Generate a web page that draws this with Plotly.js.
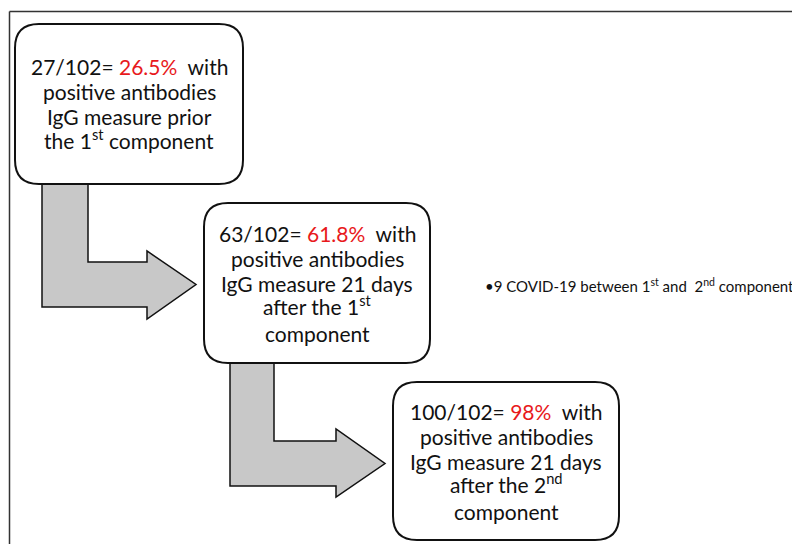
<!DOCTYPE html>
<html>
<head>
<meta charset="utf-8">
<script src="https://cdn.plot.ly/plotly-3.0.1.min.js"></script>
<style>html,body{margin:0;padding:0;background:#fff}#chart{width:792px;height:544px}</style>
</head>
<body>
<div id="chart"></div>
<script>
// ---- data ----
const positives = [27, 63, 100];
const totals = [102, 102, 102];
const percents = ["26.5%", "61.8%", "98%"];
const stageLines = [
  ["positive antibodies", "IgG measure prior", "the 1<sup>st</sup> component"],
  ["positive antibodies", "IgG measure 21 days", "after the 1<sup>st</sup>", "component"],
  ["positive antibodies", "IgG measure 21 days", "after the 2<sup>nd</sup>", "component"]
];
const covidCases = 9;
const noteText = "•" + covidCases + " COVID-19 between 1<sup>st</sup> and  2<sup>nd</sup> component";

// ---- layout geometry (pixels) ----
const boxes = [
  {x0: 15, x1: 243, y0: 24, y1: 184},
  {x0: 204, x1: 430, y0: 203, y1: 363},
  {x0: 393, x1: 619, y0: 382, y1: 540}
];
const arrows = [
  {sx0: 42, sx1: 88, top: 184, hy0: 262, hy1: 307, base: 147, ht: 251, hb: 319, tip: 196},
  {sx0: 230, sx1: 274, top: 363, hy0: 441, hy1: 486, base: 336, ht: 429, hb: 497, tip: 385}
];
const lineGap = 25;

function roundRect(b, r) {
  return `M ${b.x0 + r} ${b.y0} L ${b.x1 - r} ${b.y0} Q ${b.x1} ${b.y0} ${b.x1} ${b.y0 + r} ` +
         `L ${b.x1} ${b.y1 - r} Q ${b.x1} ${b.y1} ${b.x1 - r} ${b.y1} ` +
         `L ${b.x0 + r} ${b.y1} Q ${b.x0} ${b.y1} ${b.x0} ${b.y1 - r} ` +
         `L ${b.x0} ${b.y0 + r} Q ${b.x0} ${b.y0} ${b.x0 + r} ${b.y0} Z`;
}
function bentArrow(a) {
  const my = (a.hy0 + a.hy1) / 2;
  return `M ${a.sx0} ${a.top} L ${a.sx1} ${a.top} L ${a.sx1} ${a.hy0} L ${a.base} ${a.hy0} ` +
         `L ${a.base} ${a.ht} L ${a.tip} ${my} L ${a.base} ${a.hb} L ${a.base} ${a.hy1} ` +
         `L ${a.sx0} ${a.hy1} Z`;
}

const shapes = [];
shapes.push({type: 'line', x0: 9.5, x1: 792, y0: 11.5, y1: 11.5, line: {color: '#333', width: 1.5}});
shapes.push({type: 'line', x0: 9.5, x1: 9.5, y0: 11.5, y1: 544, line: {color: '#333', width: 1.5}});
arrows.forEach(a => shapes.push({type: 'path', path: bentArrow(a), fillcolor: '#c8c8c8', line: {color: '#111', width: 1.5}, layer: 'below'}));
boxes.forEach(b => shapes.push({type: 'path', path: roundRect(b, 24), fillcolor: '#ffffff', line: {color: '#111', width: 2}}));

const font = {family: 'Lato, "Open Sans", sans-serif', size: 21, color: '#111'};
const annotations = [];
boxes.forEach((b, i) => {
  const lines = [`${positives[i]}/${totals[i]}= <span style="color:#e8191c">${percents[i]}</span>  with`].concat(stageLines[i]);
  const cx = (b.x0 + b.x1) / 2, cy = (b.y0 + b.y1) / 2;
  lines.forEach((t, k) => {
    const hasSup = t.indexOf('<sup>') >= 0;
    annotations.push({
      x: cx, y: cy + (k - (lines.length - 1) / 2) * lineGap, xref: 'x', yref: 'y',
      text: t, showarrow: false, font: font, align: 'center', xanchor: 'center',
      yanchor: 'middle', yshift: hasSup ? 3 : 0
    });
  });
});
annotations.push({
  x: 483, y: 285, xref: 'x', yref: 'y', text: noteText, showarrow: false,
  font: {family: 'Lato, "Open Sans", sans-serif', size: 15, color: '#111'}, xanchor: 'left', yanchor: 'middle'
});

const layout = {
  width: 792, height: 544,
  margin: {l: 0, r: 0, t: 0, b: 0},
  paper_bgcolor: '#fff', plot_bgcolor: '#fff',
  xaxis: {range: [0, 792], visible: false, fixedrange: true},
  yaxis: {range: [544, 0], visible: false, fixedrange: true},
  shapes: shapes, annotations: annotations, showlegend: false
};
Plotly.newPlot('chart', [{x: [], y: [], type: 'scatter'}], layout, {staticPlot: true});
</script>
</body>
</html>
